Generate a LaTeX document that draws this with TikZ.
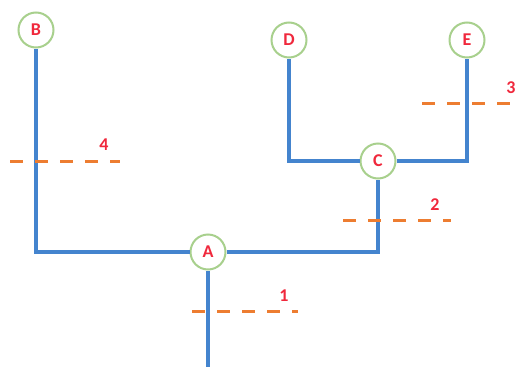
\documentclass[tikz,border=0pt]{standalone}
\usepackage{fontspec}
\setmainfont{Carlito}
\definecolor{branch}{RGB}{68,132,206}
\definecolor{cutline}{RGB}{237,125,49}
\definecolor{ring}{RGB}{168,208,141}
\definecolor{tag}{RGB}{240,40,60}
\usetikzlibrary{positioning}

\begin{document}
\begin{tikzpicture}[x=1pt, y=-1pt,
    every node/.style={font=\bfseries\fontsize{18}{20}\selectfont, text=tag},
    vertex/.style={circle, draw=ring, line width=2pt, fill=white, minimum size=35pt, inner sep=0pt},
    edge/.style={draw=branch, line width=4pt},
    cut/.style={draw=cutline, line width=3pt, dash pattern=on 13pt off 12pt}]
    \useasboundingbox (0,0) rectangle (522,367);
    \node[vertex] (B) at (36,30) {B};
    \node[vertex] (D) at (289,40) {D};
    \node[vertex] (E) at (467,40) {E};
    \node[vertex] (C) at (378,161) {C};
    \node[vertex] (A) at (208,252) {A};
    \coordinate (root) at (208,367);
    \draw[edge] (B.south) |- (A.west);
    \draw[edge] (A.east) -| (C.south);
    \draw[edge] (C.west) -| (D.south);
    \draw[edge] (C.east) -| (E.south);
    \draw[edge] (A.south) -- (root);
    % cuts
    \coordinate (c4a) at (10,161);  \coordinate (c4b) at (120,161);
    \coordinate (c1a) at (192,311); \coordinate (c1b) at (298,311);
    \coordinate (c2a) at (343,220); \coordinate (c2b) at (451,220);
    \coordinate (c3a) at (422,103); \coordinate (c3b) at (516,103);
    \draw[cut] (c4a) -- (c4b);
    \draw[cut] (c1a) -- (c1b);
    \draw[cut] (c2a) -- (c2b);
    \draw[cut] (c3a) -- (c3b);
    \node (n4) at (104,145) {4};
    \node (n1) at (284,296) {1};
    \node (n2) at (435,205) {2};
    \node (n3) at (511,88) {3};
\end{tikzpicture}
\end{document}
